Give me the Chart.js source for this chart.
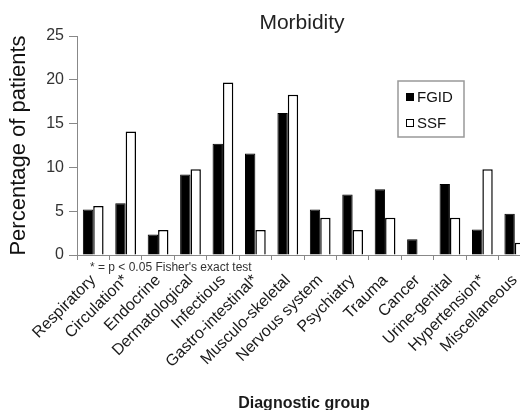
<!DOCTYPE html>
<html>
<head>
<meta charset="utf-8">
<script src="https://cdn.jsdelivr.net/npm/chart.js@4.4.0/dist/chart.umd.min.js"></script>
<style>
html,body{margin:0;padding:0;background:#fff;overflow:hidden;}
#wrap{width:540px;height:410px;}
</style>
</head>
<body>
<div id="wrap"><canvas id="c" width="540" height="410"></canvas></div>
<script>
const categories = ["Respiratory","Circulation*","Endocrine","Dermatological","Infectious","Gastro-intestinal*","Musculo-skeletal","Nervous system","Psychiatry","Trauma","Cancer","Urine-genital","Hypertension*","Miscellaneous"];
const fgidValues = [5.2, 5.9, 2.35, 9.2, 12.7, 11.6, 16.2, 5.2, 6.9, 7.5, 1.8, 8.1, 2.9, 4.7];
const ssfValues  = [5.6, 14.1, 2.85, 9.8, 19.7, 2.85, 18.3, 4.25, 2.85, 4.25, 0, 4.25, 9.8, 1.4];
const yTicks = [0, 5, 10, 15, 20, 25];
const chartTitle = "Morbidity";
const footnote = "* = p < 0.05 Fisher's exact test";

const FONT = "'Liberation Sans', Arial, sans-serif";

const overlay = {
  id: 'overlay',
  afterDraw(chart) {
    const ctx = chart.ctx;
    ctx.save();
    // title
    ctx.fillStyle = '#222';
    ctx.font = "21px " + FONT;
    ctx.textAlign = 'center';
    ctx.textBaseline = 'middle';
    ctx.fillText(chartTitle, 302, 23);
    // footnote
    ctx.font = "12px " + FONT;
    ctx.textAlign = 'left';
    ctx.fillStyle = '#333';
    ctx.fillText(footnote, 90, 268);
    // legend box
    const bx = 398, by = 81, bw = 66, bh = 56;
    ctx.strokeStyle = '#999';
    ctx.lineWidth = 1.5;
    ctx.strokeRect(bx, by, bw, bh);
    const ds = chart.data.datasets;
    const rows = [97, 123];
    ctx.font = "15px " + FONT;
    ctx.textBaseline = 'middle';
    ds.forEach((d, i) => {
      const y = rows[i];
      ctx.fillStyle = d.backgroundColor;
      ctx.fillRect(406, y - 4, 8, 8);
      ctx.strokeStyle = '#000';
      ctx.lineWidth = 1;
      ctx.strokeRect(406.5, y - 3.5, 7, 7);
      ctx.fillStyle = '#111';
      ctx.fillText(d.label, 417, y + 1);
    });
    ctx.restore();
  }
};

new Chart(document.getElementById('c'), {
  type: 'bar',
  data: {
    labels: categories,
    datasets: [
      { label: 'FGID', data: fgidValues, backgroundColor: '#000', borderColor: '#000', borderWidth: 1 },
      { label: 'SSF', data: ssfValues, backgroundColor: '#fff', borderColor: '#000', borderWidth: 1.5 }
    ]
  },
  options: {
    responsive: false,
    animation: false,
    devicePixelRatio: 1,
    categoryPercentage: 0.64,
    barPercentage: 1.0,
    layout: { padding: { top: 36, right: 9, left: 0, bottom: 0 } },
    plugins: {
      legend: { display: false },
      title: { display: false },
      tooltip: { enabled: false }
    },
    scales: {
      x: {
        afterFit(s) { s.height = 155; },
        grid: { offset: true, drawOnChartArea: false, drawTicks: true, tickLength: 5, color: '#888' },
        border: { display: true, color: '#888', width: 1 },
        ticks: { autoSkip: false, maxRotation: 45, minRotation: 45, padding: 11, color: '#1a1a1a', font: { family: FONT, size: 16 } },
        title: { display: true, text: 'Diagnostic group', color: '#1a1a1a', font: { family: FONT, size: 16, weight: 'bold' }, padding: { top: 0, bottom: -3 } }
      },
      y: {
        min: 0, max: 25,
        afterFit(s) { s.width = 77; },
        afterBuildTicks(s) { s.ticks = yTicks.map(v => ({ value: v })); },
        grid: { drawOnChartArea: false, drawTicks: true, tickLength: 8, color: '#888' },
        border: { display: true, color: '#888', width: 1 },
        ticks: { padding: 5, color: '#333', font: { family: FONT, size: 16 } },
        title: { display: true, text: 'Percentage of patients', color: '#111', font: { family: FONT, size: 22 }, padding: { top: 6, bottom: 0 } }
      }
    }
  },
  plugins: [overlay]
});
</script>
</body>
</html>
